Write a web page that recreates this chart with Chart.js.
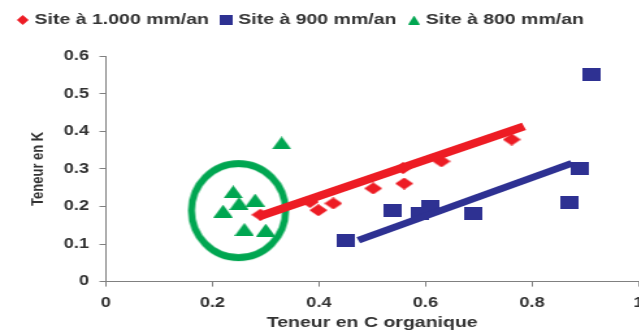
<!DOCTYPE html>
<html>
<head>
<meta charset="utf-8">
<script src="https://cdn.jsdelivr.net/npm/chart.js@4.4.1/dist/chart.umd.min.js"></script>
<style>
  html, body { margin: 0; padding: 0; background: #fff; overflow: hidden; }
  #wrap { width: 503px; height: 330px; transform-origin: 0 0; }
</style>
</head>
<body>
<div id="wrap"><canvas id="chart" width="503" height="330"></canvas></div>
<script>
// series names (legend)
const seriesNames = ['Site à 1.000 mm/an', 'Site à 900 mm/an', 'Site à 800 mm/an'];

// Site à 1.000 mm/an
const redX = [0.29, 0.383, 0.399, 0.427, 0.502, 0.558, 0.56, 0.63, 0.762];
const redY = [0.178, 0.212, 0.19, 0.208, 0.248, 0.302, 0.261, 0.32, 0.378];

// Site à 900 mm/an
const blueX = [0.451, 0.539, 0.59, 0.61, 0.69, 0.871, 0.89, 0.911];
const blueY = [0.11, 0.19, 0.181, 0.199, 0.18, 0.21, 0.30, 0.55];

// Site à 800 mm/an
const greenX = [0.22, 0.239, 0.25, 0.26, 0.28, 0.30, 0.33];
const greenY = [0.1875, 0.239, 0.208, 0.139, 0.217, 0.137, 0.369];

// trend lines
const redTrendX = [0.285, 0.785];
const redTrendY = [0.172, 0.413];
const blueTrendX = [0.474, 0.875];
const blueTrendY = [0.11, 0.315];

// circle around the 800 mm/an group
const circleX = [0.249];
const circleY = [0.189];

// axis ticks
const xTicks = ['0', '0.2', '0.4', '0.6', '0.8', '1'];
const yTicks = ['0', '0.1', '0.2', '0.3', '0.4', '0.5', '0.6'];

const RED = '#ED1C24';
const BLUE = '#2E3192';
const GREEN = '#00A651';
const TEXT = '#333333';
const AXIS = '#808080';

// the picture is stretched sideways
const STRETCH = 1.3;
document.getElementById('wrap').style.transform = 'scaleX(' + STRETCH + ')';

function pts(xs, ys) {
    return xs.map((x, i) => ({ x: x, y: ys[i] }));
}

function marker(shape, color, w, h) {
    const c = document.createElement('canvas');
    c.width = w;
    c.height = h;
    const g = c.getContext('2d');
    g.fillStyle = color;
    g.beginPath();
    if (shape === 'diamond') {
        g.moveTo(w / 2, 0); g.lineTo(w, h / 2); g.lineTo(w / 2, h); g.lineTo(0, h / 2);
    } else if (shape === 'triangle') {
        g.moveTo(w / 2, 0); g.lineTo(w, h); g.lineTo(0, h);
    } else {
        g.rect(0, 0, w, h);
    }
    g.closePath();
    g.fill();
    return c;
}

function ring(color, r, lw) {
    const c = document.createElement('canvas');
    c.width = Math.ceil((2 * r + lw + 2) / STRETCH);
    c.height = Math.ceil(2 * r + lw + 2);
    const g = c.getContext('2d');
    g.save();
    g.translate(c.width / 2, c.height / 2);
    g.scale(1 / STRETCH, 1);
    g.beginPath();
    g.arc(0, 0, r, 0, Math.PI * 2);
    g.lineWidth = lw;
    g.strokeStyle = color;
    g.stroke();
    g.restore();
    return c;
}

const legendMarks = [marker('diamond', RED, 9, 10), marker('rect', BLUE, 10, 10), marker('triangle', GREEN, 9, 9)];

// extra room under the legend
const legendSpace = {
    id: 'legendSpace',
    beforeInit(chart) {
        const fit = chart.legend.fit;
        chart.legend.fit = function () {
            fit.call(this);
            this.height += 18.6;
        };
    }
};

const ctx = document.getElementById('chart').getContext('2d');
new Chart(ctx, {
    type: 'scatter',
    data: {
        datasets: [
            { label: 'trend1', data: pts(redTrendX, redTrendY), showLine: true, borderColor: RED, borderWidth: 8, pointRadius: 0 },
            { label: 'trend2', data: pts(blueTrendX, blueTrendY), showLine: true, borderColor: BLUE, borderWidth: 6.8, pointRadius: 0 },
            { label: 'circle', data: pts(circleX, circleY), pointStyle: ring(GREEN, 47, 7) },
            { label: seriesNames[0], data: pts(redX, redY), pointStyle: marker('diamond', RED, 14, 12), backgroundColor: RED, borderColor: RED },
            { label: seriesNames[1], data: pts(blueX, blueY), pointStyle: marker('rect', BLUE, 14, 13), backgroundColor: BLUE, borderColor: BLUE },
            { label: seriesNames[2], data: pts(greenX, greenY), pointStyle: marker('triangle', GREEN, 15, 13), backgroundColor: GREEN, borderColor: GREEN }
        ]
    },
    options: {
        responsive: false,
        animation: false,
        events: [],
        layout: { padding: { top: 0.5, left: 4, right: 0, bottom: 0 } },
        plugins: {
            tooltip: { enabled: false },
            legend: {
                position: 'top',
                align: 'start',
                labels: {
                    usePointStyle: true,
                    boxWidth: 3,
                    boxHeight: 3,
                    padding: 12,
                    color: TEXT,
                    font: { family: 'Liberation Sans, Arial', size: 15, weight: 'bold' },
                    filter: (item) => item.datasetIndex >= 3,
                    generateLabels(chart) {
                        const items = Chart.defaults.plugins.legend.labels.generateLabels(chart);
                        items.forEach((it) => {
                            if (it.datasetIndex >= 3) it.pointStyle = legendMarks[it.datasetIndex - 3];
                        });
                        return items;
                    }
                }
            }
        },
        scales: {
            x: {
                type: 'linear',
                min: 0,
                max: 1,
                afterFit(scale) { scale.height = 48.4; },
                ticks: {
                    stepSize: 0.2,
                    padding: 8,
                    color: TEXT,
                    font: { family: 'Liberation Sans, Arial', size: 14, weight: 'bold' },
                    callback: (v, i) => xTicks[i]
                },
                grid: { display: true, drawOnChartArea: false, drawTicks: true, tickLength: 5, color: AXIS },
                border: { display: true, color: AXIS, width: 1 },
                title: {
                    display: true,
                    text: 'Teneur en C organique',
                    color: TEXT,
                    padding: { top: 0, bottom: 0 },
                    font: { family: 'Liberation Sans, Arial', size: 15, weight: 'bold', lineHeight: 1 }
                }
            },
            y: {
                type: 'linear',
                min: 0,
                max: 0.6,
                afterFit(scale) { scale.width = 77.5; },
                ticks: {
                    stepSize: 0.1,
                    padding: 8,
                    color: TEXT,
                    font: { family: 'Liberation Sans, Arial', size: 14, weight: 'bold' },
                    callback: (v, i) => yTicks[i]
                },
                grid: { display: true, drawOnChartArea: false, drawTicks: true, tickLength: 5, color: AXIS },
                border: { display: true, color: AXIS, width: 1 },
                title: {
                    display: true,
                    text: 'Teneur en K',
                    color: TEXT,
                    padding: { top: 19, bottom: 0 },
                    font: { family: 'Liberation Sans, Arial', size: 13, weight: 'bold', lineHeight: 1 }
                }
            }
        }
    },
    plugins: [legendSpace]
});
</script>
</body>
</html>
